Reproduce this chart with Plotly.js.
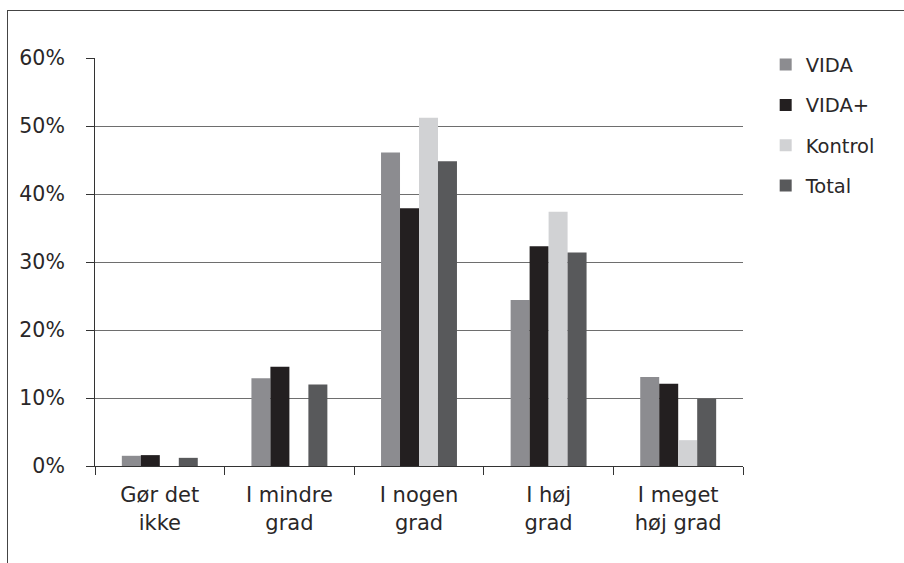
<!DOCTYPE html>
<html>
<head>
<meta charset="utf-8">
<script src="https://cdn.plot.ly/plotly-3.0.1.min.js"></script>
<style>
  html, body { margin: 0; padding: 0; background: #fff; }
  #wrap { position: relative; width: 904px; height: 563px; }
  #frame { position: absolute; left: 7px; top: 10px; right: -2px; bottom: -2px;
           border-top: 1px solid #444; border-left: 1px solid #444; }
  #chart { position: absolute; left: 0; top: 0; width: 904px; height: 563px; }
</style>
</head>
<body>
<div id="wrap">
  <div id="frame"></div>
  <div id="chart"></div>
</div>
<script>
const categories = ["Gør det<br>ikke", "I mindre<br>grad", "I nogen<br>grad", "I høj<br>grad", "I meget<br>høj grad"];
const vida    = [0.015, 0.129, 0.461, 0.244, 0.131];
const vidaPlus = [0.016, 0.146, 0.379, 0.323, 0.121];
const kontrol = [0.0, 0.0, 0.512, 0.374, 0.038];
const total   = [0.012, 0.120, 0.448, 0.314, 0.099];
const seriesNames = ["VIDA", "VIDA+", "Kontrol", "Total"];
const seriesColors = ["#8c8c90", "#231f20", "#d1d2d4", "#58595b"];
const yTickVals = [0, 0.1, 0.2, 0.3, 0.4, 0.5, 0.6];

const seriesValues = [vida, vidaPlus, kontrol, total];
const traces = seriesValues.map((vals, i) => ({
  type: "bar",
  name: seriesNames[i],
  x: categories,
  y: vals,
  marker: { color: seriesColors[i], line: { width: 0 } },
  legendgroup: "g" + i,
  hoverinfo: "skip"
}));

const yFont = { family: "DejaVu Sans, sans-serif", size: 20.5, color: "#2a2728" };
const xFont = { family: "DejaVu Sans, sans-serif", size: 21, color: "#2a2728" };

const layout = {
  width: 904,
  height: 563,
  margin: { l: 95, r: 161, t: 58, b: 97, pad: 0 },
  paper_bgcolor: "rgba(0,0,0,0)",
  plot_bgcolor: "rgba(0,0,0,0)",
  font: yFont,
  barmode: "group",
  bargap: 0.414,
  bargroupgap: 0,
  showlegend: true,
  legend: {
    x: 1.035, y: 1.031, xanchor: "left", yanchor: "top",
    font: { family: "DejaVu Sans, sans-serif", size: 19.5, color: "#2a2728" },
    traceorder: "grouped",
    tracegroupgap: 12,
    bgcolor: "rgba(0,0,0,0)"
  },
  xaxis: {
    type: "category",
    showline: true, linecolor: "#333", linewidth: 1,
    ticks: "outside", tickson: "boundaries", ticklen: 8, tickcolor: "#333",
    showgrid: false, zeroline: false,
    tickfont: xFont,
    ticklabelstandoff: 10,
    fixedrange: true
  },
  yaxis: {
    range: [0, 0.6],
    tickvals: yTickVals,
    tickformat: ".0%",
    showline: true, linecolor: "#333", linewidth: 1,
    ticks: "outside", ticklen: 8, tickcolor: "#333",
    showgrid: true, gridcolor: "#6e6e6e", gridwidth: 1,
    zeroline: false,
    tickfont: yFont,
    ticklabelstandoff: 17,
    fixedrange: true
  }
};

Plotly.newPlot("chart", traces, layout, { staticPlot: true, displayModeBar: false });
</script>
</body>
</html>
